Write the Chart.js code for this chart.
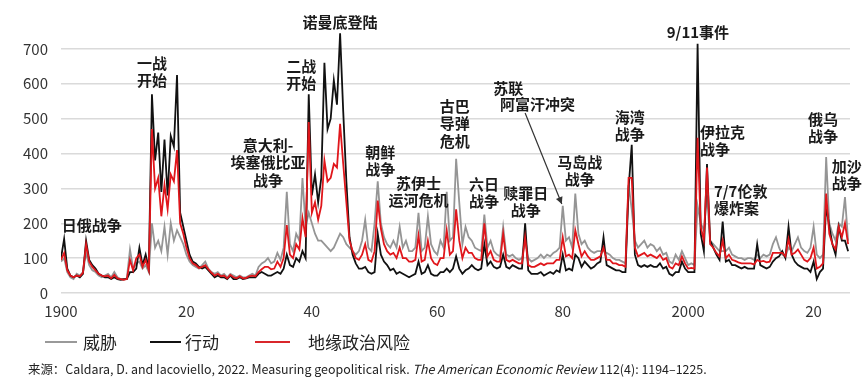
<!DOCTYPE html>
<html><head><meta charset="utf-8">
<script src="https://cdn.jsdelivr.net/npm/chart.js@4.4.1/dist/chart.umd.min.js"></script>
<style>
html,body{margin:0;padding:0;background:#fff;}
#wrap{position:relative;width:865px;height:381px;overflow:hidden;background:#fff;}
#c{position:absolute;left:0;top:0;}
.lgline{position:absolute;height:2px;top:341px;}
.lgtext{position:absolute;top:331px;font:17px "Noto Sans CJK SC",sans-serif;color:#222;line-height:22px;white-space:nowrap;}
#src{position:absolute;left:28px;top:360px;font:12.5px "Noto Sans CJK SC",sans-serif;color:#222;white-space:nowrap;transform-origin:left center;line-height:18px;}
</style></head>
<body>
<div id="wrap">
<canvas id="c" width="865" height="381"></canvas>
<div class="lgline" style="left:45px;width:32px;background:#999;"></div>
<div class="lgtext" style="left:83px;">威胁</div>
<div class="lgline" style="left:150px;width:31px;background:#111;"></div>
<div class="lgtext" style="left:185px;">行动</div>
<div class="lgline" style="left:255px;width:35px;background:#d9262b;"></div>
<div class="lgtext" style="left:308px;">地缘政治风险</div>
<div id="src">来源：Caldara, D. and Iacoviello, 2022. Measuring geopolitical risk. <i>The American Economic Review</i> 112(4): 1194–1225.</div>
</div>
<script>
// Half-yearly readings, 1900.0 – 2025.5
const startYear = 1900, stepYears = 0.5;

const threat = [
  90,100,60,45,40,55,50,60,115,80,65,60,50,45,50,55,45,60,45,40,          // 1900s
  38,42,125,70,85,90,70,80,60,200,130,150,120,190,110,200,150,180,160,140, // 1910s
  110,90,80,75,70,80,90,70,60,55,60,50,55,45,55,50,45,50,45,45,            // 1920s
  50,55,50,75,85,90,100,85,90,115,95,130,290,140,120,170,150,330,190,230,  // 1930s
  200,170,150,150,140,130,120,130,150,170,160,140,130,120,110,120,150,210,130,120, // 1940s
  200,320,200,160,140,130,150,130,190,130,150,120,120,130,230,120,130,220,140,120, // 1950s
  110,150,130,290,150,160,385,260,140,190,160,150,130,125,120,225,130,150,120,110, // 1960s
  105,190,110,105,110,100,95,100,160,100,90,95,100,110,100,110,105,115,120,130,    // 1970s
  250,150,160,130,285,170,140,150,130,120,115,120,120,120,115,110,100,95,95,90,    // 1980s
  85,310,240,150,130,140,150,130,140,135,120,130,110,115,90,85,110,95,120,100,     // 1990s
  80,85,80,250,200,180,280,150,140,130,120,120,120,130,110,105,100,100,95,100,     // 2000s
  100,95,110,100,110,105,110,140,160,130,110,105,130,120,140,160,130,120,115,130,  // 2010s
  190,110,100,110,390,200,170,150,200,190,275,150                                  // 2020s
];
const acts = [
  100,155,70,50,45,50,45,55,150,95,80,70,55,50,45,45,40,45,40,38,
  40,40,60,60,70,130,80,110,70,570,380,460,290,440,280,450,420,625,230,190,
  150,110,90,85,75,70,75,65,55,45,50,45,45,40,50,40,40,45,40,42,
  45,45,45,55,60,55,50,50,55,60,55,70,110,80,75,100,90,120,100,570,
  280,340,260,330,660,470,500,610,540,745,520,320,160,110,85,70,70,75,60,55,
  60,170,110,90,80,65,70,55,60,55,50,45,50,55,90,55,60,80,55,50,
  50,60,60,70,60,70,105,70,55,65,70,80,70,65,70,140,80,90,75,70,
  75,110,75,70,80,75,70,70,200,65,55,55,55,60,50,55,60,55,65,60,
  110,65,70,65,110,100,75,90,80,70,75,85,90,160,80,75,70,65,65,60,
  60,300,425,110,80,75,80,75,80,75,75,85,70,75,55,50,60,60,90,70,
  60,60,60,715,170,120,370,150,130,110,95,205,90,95,80,80,75,70,75,70,
  70,70,140,80,75,70,75,90,100,105,120,100,190,110,90,80,75,70,70,60,
  90,40,60,70,250,190,140,110,190,150,150,120
];
const gpr = [
  95,115,65,50,45,50,48,58,140,90,75,65,55,50,48,50,42,52,42,40,
  38,40,95,65,100,110,75,95,65,470,300,330,220,310,240,340,320,410,200,170,
  130,100,85,80,72,75,80,68,58,50,55,48,50,42,52,45,42,48,42,43,
  48,50,48,60,68,75,75,68,70,90,75,100,195,110,100,140,125,215,160,490,
  230,260,210,250,380,320,330,370,360,485,370,260,150,120,100,95,110,140,95,90,
  120,265,185,140,120,110,115,100,130,100,100,90,90,95,165,90,95,150,100,85,
  80,100,100,180,110,120,240,150,100,130,115,115,100,95,95,200,105,120,95,90,
  90,170,95,90,95,90,85,85,160,80,75,75,80,85,80,85,85,85,95,95,
  160,105,110,100,180,140,105,120,105,95,95,100,105,130,95,95,85,85,80,80,
  75,330,330,130,105,110,115,105,110,105,100,110,95,100,75,70,85,80,105,85,
  70,72,70,445,190,150,360,140,130,115,105,150,100,110,95,92,88,85,85,85,
  85,82,95,90,92,88,90,115,115,115,115,105,155,110,115,125,110,95,90,100,
  130,70,75,85,285,170,140,125,190,160,200,140
];

const tickYears  = [1900, 1920, 1940, 1960, 1980, 2000, 2020];
const tickLabels = ['1900', '20', '40', '60', '80', '2000', '20'];
const yTicks     = [0, 100, 200, 300, 400, 500, 600, 700];
const seriesNames = ['威胁', '行动', '地缘政治风险'];

// Event annotations anchored in data coordinates (year, index value of first line)
const notes = [
  {lines:['日俄战争'], year:1904.9, val:195},
  {lines:['一战','开始'], year:1914.5, val:660},
  {lines:['意大利-','埃塞俄比亚','战争'], year:1933.0, val:425},
  {lines:['二战','开始'], year:1938.3, val:651},
  {lines:['诺曼底登陆'], year:1944.5, val:777},
  {lines:['朝鲜','战争'], year:1950.9, val:404},
  {lines:['苏伊士','运河危机'], year:1957.0, val:316},
  {lines:['古巴','导弹','危机'], year:1962.8, val:536},
  {lines:['六日','战争'], year:1967.45, val:313},
  {lines:['赎罪日','战争'], year:1974.1, val:287},
  {lines:['苏联'], year:1968.9, val:588, align:'left'},
  {lines:['阿富汗冲突'], year:1970.0, val:542, align:'left'},
  {lines:['马岛战','战争'], year:1982.7, val:376},
  {lines:['海湾','战争'], year:1990.7, val:505},
  {lines:['9/11事件'], year:2001.55, val:749},
  {lines:['伊拉克','战争'], year:2001.9, val:462, align:'left'},
  {lines:['7/7伦敦','爆炸案'], year:2004.1, val:293, align:'left'},
  {lines:['俄乌','战争'], year:2021.5, val:499},
  {lines:['加沙','战争'], year:2025.3, val:364}
];
const arrowFrom = {year:1974.0, val:516};
const arrowTo   = {year:1979.85, val:255};

const years = threat.map((_, i) => startYear + i * stepYears);
const pts = arr => arr.map((v, i) => ({x: years[i], y: v}));

const FONT = '"Noto Sans CJK SC", "Noto Sans", sans-serif';

const notePlugin = {
  id: 'notes',
  afterDatasetsDraw(chart) {
    const {ctx, scales:{x, y}} = chart;
    ctx.save();
    ctx.fillStyle = '#1a1a1a';
    ctx.font = 'bold 15px ' + FONT;
    ctx.textBaseline = 'middle';
    notes.forEach(n => {
      ctx.textAlign = n.align || 'center';
      const px = x.getPixelForValue(n.year);
      const py = y.getPixelForValue(n.val);
      n.lines.forEach((t, k) => ctx.fillText(t, px, py + k * 17.5));
    });
    // arrow for Soviet-Afghan
    const x1 = x.getPixelForValue(arrowFrom.year), y1 = y.getPixelForValue(arrowFrom.val);
    const x2 = x.getPixelForValue(arrowTo.year),   y2 = y.getPixelForValue(arrowTo.val);
    ctx.strokeStyle = '#333'; ctx.fillStyle = '#333'; ctx.lineWidth = 1.2;
    ctx.beginPath(); ctx.moveTo(x1, y1); ctx.lineTo(x2, y2); ctx.stroke();
    const ang = Math.atan2(y2 - y1, x2 - x1), L = 7, W = 3.5;
    ctx.beginPath();
    ctx.moveTo(x2, y2);
    ctx.lineTo(x2 - L*Math.cos(ang) + W*Math.sin(ang), y2 - L*Math.sin(ang) - W*Math.cos(ang));
    ctx.lineTo(x2 - L*Math.cos(ang) - W*Math.sin(ang), y2 - L*Math.sin(ang) + W*Math.cos(ang));
    ctx.closePath(); ctx.fill();
    ctx.restore();
  }
};

new Chart(document.getElementById('c'), {
  type: 'line',
  data: {
    datasets: [
      {label: seriesNames[0], data: pts(threat), borderColor: '#959595', borderWidth: 1.8, order: 3},
      {label: seriesNames[1], data: pts(acts),   borderColor: '#111111', borderWidth: 1.8, order: 2},
      {label: seriesNames[2], data: pts(gpr),    borderColor: '#e0161b', borderWidth: 1.8, order: 1}
    ]
  },
  options: {
    responsive: false,
    animation: false,
    devicePixelRatio: 1,
    elements: {point: {radius: 0}, line: {tension: 0}},
    layout: {padding: {top: 28, right: 15, left: 0, bottom: 58}},
    plugins: {legend: {display: false}, tooltip: {enabled: false}},
    scales: {
      x: {
        type: 'linear', min: 1900, max: 2025.8,
        grid: {display: false},
        border: {display: false},
        afterBuildTicks: s => { s.ticks = tickYears.map(v => ({value: v})); },
        afterFit: s => { s.height = 30; },
        ticks: {
          autoSkip: false, maxRotation: 0, padding: 1,
          color: '#333', font: {family: FONT, size: 15},
          callback: v => tickLabels[tickYears.indexOf(v)]
        }
      },
      y: {
        min: 0, max: 760,
        grid: {color: '#dadada', lineWidth: 1.5, drawTicks: false},
        border: {display: false},
        afterBuildTicks: s => { s.ticks = yTicks.map(v => ({value: v})); },
        afterFit: s => { s.width = 61; },
        ticks: {padding: 13, color: '#333', font: {family: FONT, size: 15}}
      }
    }
  },
  plugins: [notePlugin]
});

const src = document.getElementById('src');
const w = src.offsetWidth;
src.style.transform = 'scaleX(' + (679 / w) + ')';
</script>
</body></html>
